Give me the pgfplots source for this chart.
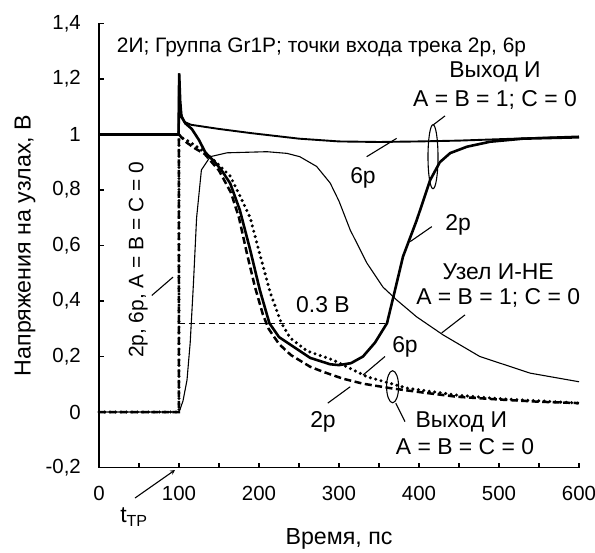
\documentclass[border=0pt]{standalone}
\usepackage{fontspec}
\setmainfont{Liberation Sans}
\usepackage{pgfplots}
\pgfplotsset{compat=1.18}
\begin{document}
\begin{tikzpicture}
\begin{axis}[
  name=ax,
  scale only axis,
  width=480bp, height=444bp,
  xmin=0, xmax=600, ymin=-0.2, ymax=1.4,
  axis x line=bottom, axis y line=left,
  axis line style={-, line width=1.3bp},
  xtick={0,100,...,600},
  minor xtick={50,150,...,550},
  ytick={-0.2,0,0.2,0.4,0.6,0.8,1,1.2,1.4},
  yticklabels={{-0,2},0,{0,2},{0,4},{0,6},{0,8},1,{1,2},{1,4}},
  tick align=inside,
  major tick length=5bp, minor tick length=5bp,
  tick style={line width=1.1bp, black},
  ticklabel style={font=\fontsize{20.5}{24}\selectfont, inner sep=0pt},
  /pgf/number format/assume math mode=true,
  yticklabel style={xshift=-18bp},
  xticklabel style={yshift=-19bp},
  xlabel={Время, пс},
  ylabel={Напряжения на узлах, В},
  label style={font=\fontsize{23.3}{26}\selectfont},
  xlabel style={at={(rel axis cs:0.5,0)}, anchor=center, yshift=-71bp},
  ylabel style={at={(rel axis cs:0,0.5)}, anchor=center, yshift=74bp},
  clip=false,
]
% output AND, A=B=1, C=0, track 6p
\addplot[black, line width=1.9bp] coordinates {
  (0,1) (99.5,1) (100.2,1.22) (101,1.12) (103,1.07) (107,1.045) (115,1.035)
  (150,1.02) (190,1.005) (250,0.985) (300,0.975) (350,0.973) (400,0.975)
  (450,0.978) (500,0.983) (550,0.988) (600,0.993)
};
% output AND, A=B=1, C=0, track 2p
\addplot[black, line width=2.6bp] coordinates {
  (0,1) (99.5,1) (100.2,1.22) (101.5,1.12) (103,1.064) (108,1.04) (116,1.02)
  (125,0.98) (133,0.935) (145,0.90) (153,0.872) (164,0.824) (176,0.728)
  (189,0.584) (201,0.44) (213,0.32) (225,0.27) (239,0.243) (264,0.195)
  (289,0.172) (300,0.169) (315,0.176) (330,0.2) (345,0.25) (360,0.32)
  (368,0.415) (380,0.56) (397,0.69) (414,0.836) (426,0.9) (439,0.933)
  (460,0.956) (489,0.974) (530,0.985) (600,0.99)
};
% NAND node, A=B=1, C=0
\addplot[black, line width=1.1bp] coordinates {
  (0,0) (100,0) (101,0.007) (105,0.04) (110,0.115) (114,0.25) (118,0.46)
  (122,0.70) (128,0.872) (139,0.92) (160,0.934) (210,0.938) (235,0.932)
  (251,0.92) (272,0.885) (289,0.825) (300,0.76) (314,0.656) (335,0.536)
  (355,0.45) (372,0.404) (397,0.343) (430,0.278) (476,0.2) (539,0.14)
  (600,0.109)
};
% output AND, A=B=C=0, track 2p
\addplot[black, line width=2.5bp, dash pattern=on 7bp off 3.5bp] coordinates {
  (0,0) (100,0) (100,1.0) (103,0.99) (110,0.97) (120,0.95) (132,0.93)
  (150,0.87) (165,0.79) (175,0.70) (185,0.57) (195,0.45) (205,0.35)
  (212,0.30) (225,0.245) (240,0.205) (264,0.163) (280,0.145) (305,0.12)
  (330,0.102) (364,0.086) (400,0.072) (447,0.055) (500,0.045) (550,0.037)
  (600,0.032)
};
% output AND, A=B=C=0, track 6p
\addplot[black, line width=3.4bp, line cap=round, dash pattern=on 0bp off 5.5bp] coordinates {
  (0,0) (100,0) (100,1.0) (103,0.99) (115,0.97) (133,0.935) (150,0.89)
  (164,0.85) (176,0.78) (189,0.70) (200,0.58) (214,0.43) (228,0.32)
  (239,0.267) (260,0.22) (293,0.187) (335,0.127) (385,0.086) (447,0.061)
  (500,0.048) (550,0.04) (600,0.032)
};
% 0.3 V level
\addplot[black, line width=1.2bp, dash pattern=on 6bp off 4bp] coordinates {(100,0.32) (360,0.32)};

\begin{scope}[font=\fontsize{23}{26}\selectfont, line width=1.1bp]
\node[anchor=west, font=\fontsize{21}{24}\selectfont] at (axis cs:17.5,1.315) {2И; Группа Gr1P; точки входа трека 2р, 6р};
\node[rotate=90, font=\fontsize{21}{24}\selectfont] at (axis cs:49,0.548) {2р, 6р, А = В = С = 0};
\draw (axis cs:66,0.42) -- (axis cs:92.5,0.486);
\node at (axis cs:330,0.843) {6р};
\draw (axis cs:334.6,0.92) -- (axis cs:372,0.986);
\node at (axis cs:495,1.226) {Выход И};
\node at (axis cs:495,1.124) {А = В = 1; С = 0};
\draw (axis cs:417.5,0.92) ellipse [x radius=5bp, y radius=32bp];
\draw (axis cs:417.5,1.034) -- (axis cs:432.5,1.067);
\node at (axis cs:449,0.674) {2р};
\draw (axis cs:416,0.668) -- (axis cs:389,0.614);
\node at (axis cs:499,0.506) {Узел И-НЕ};
\node at (axis cs:499,0.411) {А = В = 1; С = 0};
\draw (axis cs:457.5,0.35) -- (axis cs:428.4,0.285);
\node at (axis cs:280,0.386) {0.3 В};
\node at (axis cs:382.5,0.235) {6р};
\draw (axis cs:357.5,0.2) -- (axis cs:330,0.133);
\node at (axis cs:280,-0.035) {2р};
\draw (axis cs:286,0.032) -- (axis cs:314,0.091);
\draw (axis cs:367,0.091) ellipse [x radius=6bp, y radius=16bp];
\draw (axis cs:371,0.032) -- (axis cs:382.5,-0.035);
\node at (axis cs:453,-0.035) {Выход И};
\node at (axis cs:457.5,-0.125) {А = В = С = 0};
\node at (axis cs:43.75,-0.378) {t\textsubscript{TP}};
\draw[-stealth] (axis cs:45,-0.31) -- (axis cs:95,-0.209);
\end{scope}
\end{axis}
\pgfresetboundingbox
\path (ax.south west) ++(-99bp,-85.5bp) rectangle ++(595bp,553bp);
\end{tikzpicture}
\end{document}
